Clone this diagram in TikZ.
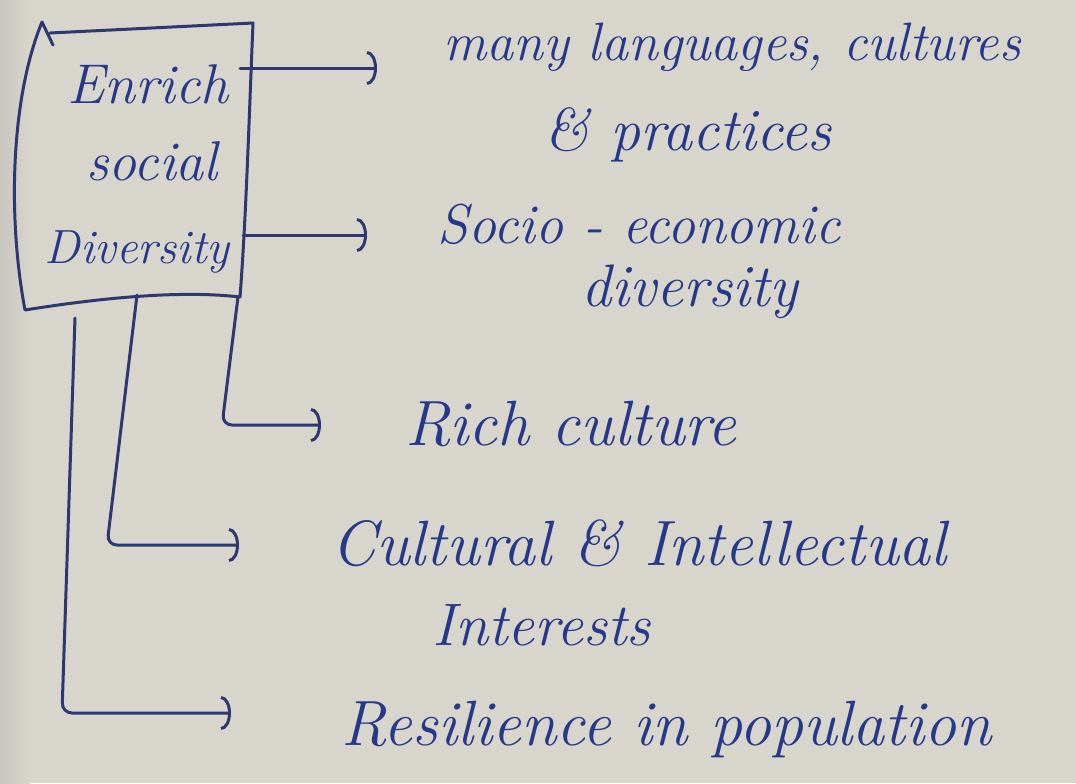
\documentclass[tikz,border=0pt]{standalone}
\usetikzlibrary{arrows.meta,calc}
\definecolor{paper}{RGB}{216,213,205}
\definecolor{papershade}{RGB}{200,197,191}
\definecolor{inkc}{RGB}{45,55,112}
\definecolor{txtc}{RGB}{38,56,138}
\begin{document}
\begin{tikzpicture}[x=0.5pt,y=-0.5pt,
  ink/.style={draw=inkc, line width=1.5pt, line cap=round, line join=round},
  conn/.style={ink, rounded corners=5pt, -{Arc Barb[length=5pt,width=17pt,line width=1.5pt]}},
  hand/.style={text=txtc, font=\fontsize{30}{36}\selectfont\itshape, inner sep=0pt, anchor=base west},
  big/.style={font=\fontsize{32}{38}\selectfont\itshape},
  small/.style={font=\fontsize{27}{32}\selectfont\itshape},
  boxtext/.style={text=txtc, font=\fontsize{28}{34}\selectfont\itshape, inner sep=0pt, anchor=base}]
\fill[paper] (0,0) rectangle (1076,783);
\shade[left color=papershade, right color=paper] (0,0) rectangle (30,783);
\useasboundingbox (0,0) rectangle (1076,783);

% main box
\node[minimum width=110pt, minimum height=140pt, inner sep=0pt] (box) at (140,166) {};
\draw[ink] (50,33) -- (253,23) .. controls (249,120) and (246,220) .. (240,297)
  .. controls (180,290) and (100,298) .. (25,310)
  .. controls (8,220) and (10,100) .. (42,22) -- (53,45);
\node[boxtext] (b1) at (148,103) {Enrich};
\node[boxtext] (b2) at (152,180) {social};
\node[boxtext, font=\fontsize{24}{30}\selectfont\itshape] (b3) at (137,263) {Diversity};

% texts
\node[hand, small] (t1)  at (443,60)  {many languages, cultures};
\node[hand] (t1b) at (544,150) {\& practices};
\node[hand, font=\fontsize{28}{34}\selectfont\itshape] (t2)  at (437,243) {Socio - economic};
\node[hand] (t2b) at (581,306) {diversity};
\node[hand, big] (t3)  at (405,445) {Rich culture};
\node[hand, big] (t4)  at (331,565) {Cultural \& Intellectual};
\node[hand] (t4b) at (432,645) {Interests};
\node[hand, big] (t5)  at (341,745) {Resilience in population};

% connector points
\coordinate (s1) at (240,68);
\coordinate (s2) at (243,235);
\coordinate (s3) at (238,297);  \coordinate (k3) at (222,425);
\coordinate (s4) at (137,295);  \coordinate (k4) at (107,545);
\coordinate (s5) at (75,318);   \coordinate (k5) at (62,713);
\coordinate (e1) at ([xshift=-33pt]t1.base west);
\coordinate (e2) at ([xshift=-35pt]t2.base west);
\coordinate (e3) at ([xshift=-42pt]t3.base west);
\coordinate (e4) at ([xshift=-46pt]t4.base west);
\coordinate (e5) at ([xshift=-55pt]t5.base west);

\draw[conn] (s1) -- (s1 -| e1);
\draw[conn] (s2) -- (s2 -| e2);
\draw[conn] (s3) -- (k3) -- (k3 -| e3);
\draw[conn] (s4) -- (k4) -- (k4 -| e4);
\draw[conn] (s5) -- (k5) -- (k5 -| e5);
\end{tikzpicture}
\end{document}
